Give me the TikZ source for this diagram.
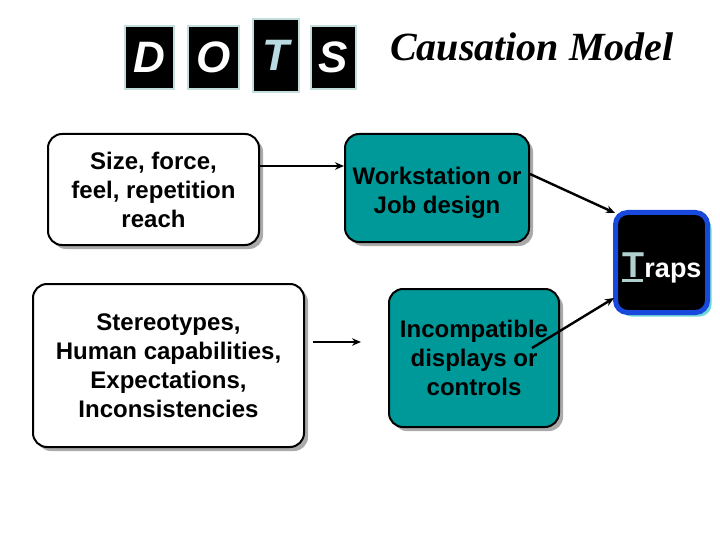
\documentclass[tikz,border=0pt]{standalone}
\usepackage{fontspec}
\setmainfont{Liberation Sans}
\newfontfamily\serifbi{Liberation Serif}
\usetikzlibrary{shadows,arrows.meta}
\definecolor{teal1}{RGB}{0,153,153}
\definecolor{shad}{RGB}{170,170,170}
\definecolor{dotsborder}{RGB}{196,222,222}
\definecolor{tletter}{RGB}{184,218,224}
\definecolor{trapsblue}{RGB}{24,72,220}
\definecolor{trapsshadow}{RGB}{110,215,215}
\definecolor{trapsT}{RGB}{176,208,208}
\begin{document}
\begin{tikzpicture}[x=1pt,y=-1pt,
  boxbase/.style={draw=black,line width=2pt,rounded corners=14pt,align=center,
    inner sep=0pt,text=black,
    font=\bfseries\fontsize{24}{29}\selectfont,
    drop shadow={shadow xshift=4pt,shadow yshift=-4pt,fill=shad,opacity=1}},
  whitebox/.style={boxbase,fill=white},
  tealbox/.style={boxbase,fill=teal1},
  dotsbox/.style={draw=dotsborder,line width=2pt,fill=black,inner sep=0pt,
    text=white,font=\bfseries\itshape\fontsize{44}{44}\selectfont},
  arr/.style={line width=2.4pt,-{Stealth[length=9pt,width=7.5pt]}}
]
\useasboundingbox (0,0) rectangle (720,540);

% DOTS
\node[dotsbox,minimum width=49pt,minimum height=63pt] (d) at (149,57.5) {D};
\node[dotsbox,minimum width=51pt,minimum height=63pt] (o) at (213.5,57.5) {O};
\node[dotsbox,minimum width=46pt,minimum height=73pt,text=tletter] (t) at (276,55.5) {T};
\node[dotsbox,minimum width=45pt,minimum height=63pt] (s) at (333.5,57.5) {S};

% title
\node[font=\serifbi\bfseries\itshape\fontsize{40}{40}\selectfont,inner sep=0pt,anchor=base west] (title) at (390,61) {Causation Model};

% boxes
\node[whitebox,minimum width=211pt,minimum height=111pt] (b1) at (153.5,189.5)
  {Size, force,\\feel, repetition\\reach};
\node[tealbox,minimum width=184pt,minimum height=108pt] (b2) at (437,188)
  {\mbox{}\\[-2pt]Workstation or\\Job design};
\node[whitebox,minimum width=271pt,minimum height=163pt] (b3) at (168.5,365.5)
  {Stereotypes,\\Human capabilities,\\Expectations,\\Inconsistencies};
\node[tealbox,minimum width=170pt,minimum height=138pt] (b4) at (474,358)
  {Incompatible\\displays or\\controls};

% Traps
\node[draw=trapsblue,line width=5pt,fill=black,rounded corners=12pt,
  minimum width=92pt,minimum height=100pt,inner sep=0pt,
  drop shadow={shadow xshift=4pt,shadow yshift=-4pt,fill=trapsshadow,opacity=1}]
  (traps) at (661.5,262.5) {};
\node[anchor=base,inner sep=0pt,text=white,font=\bfseries\fontsize{27}{27}\selectfont]
  (trapstext) at (662,277)
  {{\color{trapsT}\fontsize{36}{36}\selectfont\rlap{\rule[-4.5pt]{21pt}{3pt}}T}raps};

% connectors
\coordinate (r1) at (0,166);
\draw[arr] (b1.east |- r1) -- (b2.west |- r1);
\coordinate (a2s) at (313,342);
\coordinate (a2e) at (361,342);
\draw[arr] (a2s) -- (a2e);
\coordinate (a3s) at (530,174);
\coordinate (a3e) at (615,213);
\draw[arr] (a3s) -- (a3e);
\coordinate (a4s) at (532,348);
\coordinate (a4e) at (614,298);
\draw[arr] (a4s) -- (a4e);
\end{tikzpicture}
\end{document}
